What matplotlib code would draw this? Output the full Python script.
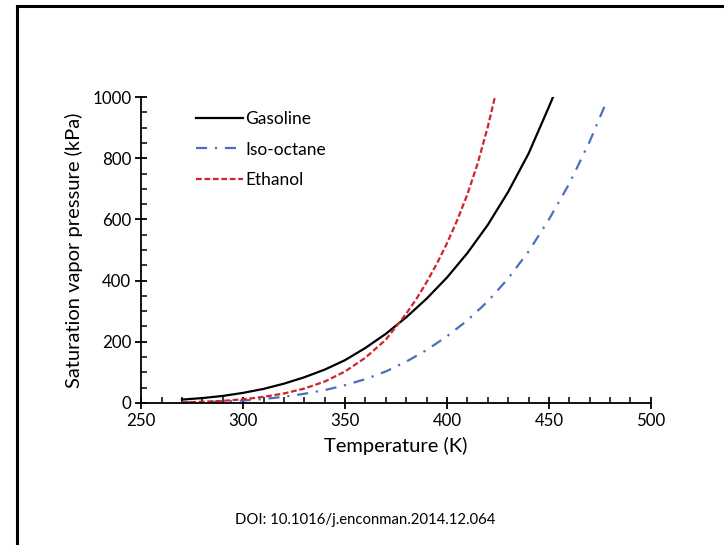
import matplotlib
matplotlib.use("Agg")
import matplotlib.pyplot as plt
from matplotlib.lines import Line2D
from matplotlib.ticker import MultipleLocator

plt.rcParams['font.family'] = ['Lato', 'DejaVu Sans']

# Data
T_gasoline = [270, 280, 290, 300, 310, 320, 330, 340, 350, 360, 370, 380, 390, 400,
              410, 420, 430, 440, 450, 452]
P_gasoline = [11, 16, 23, 33, 46, 63, 84, 109, 140, 180, 226, 280, 341, 410,
              490, 582, 690, 815, 968, 1000]

T_isooctane = [270, 280, 290, 300, 310, 320, 330, 340, 350, 360, 370, 380, 390, 400,
               410, 420, 430, 440, 450, 460, 470, 478]
P_isooctane = [1.5, 3, 5, 8, 13, 20, 30, 42, 58, 78, 103, 135, 173, 218,
               270, 332, 407, 495, 600, 717, 855, 981]

T_ethanol = [270, 280, 290, 300, 310, 320, 330, 340, 350, 360, 370, 380, 385, 390,
             395, 400, 405, 410, 415, 420, 423.5]
P_ethanol = [2, 4, 7, 12, 20, 31, 47, 70, 103, 148, 207, 292, 340, 395,
             455, 522, 597, 682, 782, 902, 1000]

labels = ["Gasoline", "Iso-octane", "Ethanol"]
x_ticks = [250, 300, 350, 400, 450, 500]
y_ticks = [0, 200, 400, 600, 800, 1000]

fig = plt.figure(figsize=(7.24, 5.45), dpi=100)
ax = fig.add_axes([0.195, 0.2606, 0.704, 0.5614])

ax.plot(T_gasoline, P_gasoline, color='black', lw=1.6, ls='-', label=labels[0])
ax.plot(T_isooctane, P_isooctane, color='#4a6fc0', lw=1.6, dashes=(5, 3.5, 1, 3.5), label=labels[1])
ax.plot(T_ethanol, P_ethanol, color='#d0242c', lw=1.6, dashes=(2.6, 1.2), label=labels[2])

ax.set_xlim(250, 500)
ax.set_ylim(0, 1000)
ax.set_xticks(x_ticks)
ax.set_yticks(y_ticks)
ax.xaxis.set_minor_locator(MultipleLocator(10))
ax.yaxis.set_minor_locator(MultipleLocator(50))
for s in ['top', 'right']:
    ax.spines[s].set_visible(False)
for s in ['left', 'bottom']:
    ax.spines[s].set_linewidth(1.3)
ax.tick_params(which='major', direction='inout', length=8, width=1.3, labelsize=12.2, pad=3)
ax.tick_params(which='minor', direction='in', length=4, width=1.1)
ax.set_xlabel("Temperature (K)", fontsize=14.5, labelpad=6)
ax.set_ylabel("Saturation vapor pressure (kPa)", fontsize=14.5, labelpad=7)

leg = ax.legend(loc='upper left', bbox_to_anchor=(0.108, 0.955), frameon=False, fontsize=12.5,
                handlelength=2.7, handletextpad=0.12, labelspacing=0.85, borderpad=0,
                borderaxespad=0)

fig.text(0.504, 0.046, "DOI: 10.1016/j.enconman.2014.12.064", ha='center', va='center', fontsize=10.7)

# page border (left and top visible)
fig.add_artist(Line2D([0.0235, 0.0235], [0, 0.989], transform=fig.transFigure, color='black', lw=2.2))
fig.add_artist(Line2D([0.0235, 1.0], [0.989, 0.989], transform=fig.transFigure, color='black', lw=2.2))

fig.savefig("out.png", dpi=100)
